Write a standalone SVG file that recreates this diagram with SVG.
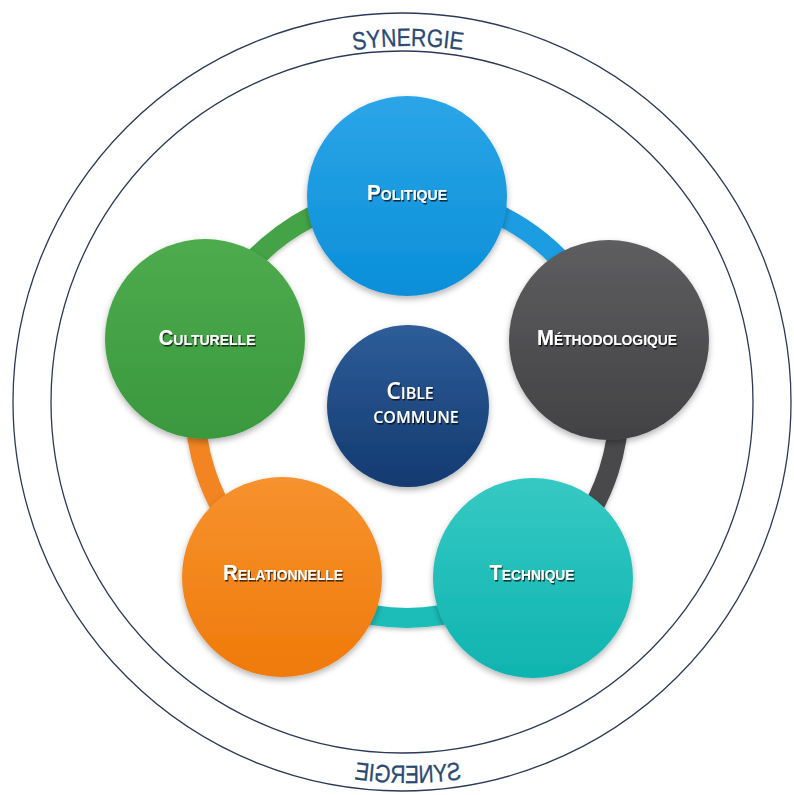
<svg xmlns="http://www.w3.org/2000/svg" width="794" height="795" viewBox="0 0 794 795">
  <defs>
    <style>
      .ring { fill: none; stroke: #2b3a58; stroke-width: 1.3; }
      .syn { font-family: "Liberation Sans", Arial, sans-serif; font-size: 25px; fill: #2a4a72; stroke: #2a4a72; stroke-width: 0.3; }
      .arc { fill: none; stroke-width: 20; stroke-linecap: butt; }
      .lbl { font-family: "Liberation Sans", Arial, sans-serif; font-weight: bold; font-size: 22px; font-variant: small-caps; fill: #ffffff; text-anchor: middle; }
      .ctr { font-family: "Open Sans", "Liberation Sans", sans-serif; font-weight: 600; font-size: 23px; font-variant: small-caps; fill: #ffffff; text-anchor: middle; }
    </style>
    <filter id="shadow" x="-20%" y="-20%" width="140%" height="140%">
      <feDropShadow dx="0" dy="3" stdDeviation="3" flood-color="#000" flood-opacity="0.3"/>
    </filter>
    <filter id="arcShadow" x="-20%" y="-20%" width="140%" height="140%">
      <feDropShadow dx="0" dy="2" stdDeviation="2" flood-color="#000" flood-opacity="0.25"/>
    </filter>
    <filter id="txtShadow" x="-10%" y="-30%" width="120%" height="160%">
      <feDropShadow dx="1" dy="1.5" stdDeviation="0.6" flood-color="#000" flood-opacity="0.75"/>
    </filter>
    <linearGradient id="gBlue" x1="0" y1="0" x2="0" y2="1">
      <stop offset="0" stop-color="#2ca5e8"/>
      <stop offset="1" stop-color="#0a8fd8"/>
    </linearGradient>
    <linearGradient id="gGray" x1="0" y1="0" x2="0" y2="1">
      <stop offset="0" stop-color="#5e5e60"/>
      <stop offset="1" stop-color="#424244"/>
    </linearGradient>
    <linearGradient id="gGreen" x1="0" y1="0" x2="0" y2="1">
      <stop offset="0" stop-color="#4eab4e"/>
      <stop offset="1" stop-color="#3a983e"/>
    </linearGradient>
    <linearGradient id="gOrange" x1="0" y1="0" x2="0" y2="1">
      <stop offset="0" stop-color="#f7922e"/>
      <stop offset="1" stop-color="#ef7a0a"/>
    </linearGradient>
    <linearGradient id="gTeal" x1="0" y1="0" x2="0" y2="1">
      <stop offset="0" stop-color="#36c9c3"/>
      <stop offset="1" stop-color="#0fb4b0"/>
    </linearGradient>
    <linearGradient id="gNavy" x1="0" y1="0" x2="0" y2="1">
      <stop offset="0" stop-color="#2e5d98"/>
      <stop offset="1" stop-color="#123a70"/>
    </linearGradient>
    <path id="topArc" d="M52,402 A356,356 0 0 1 764,402"/>
    <path id="botArc" d="M27,402 A381,381 0 0 0 789,402"/>
  </defs>

  <rect x="0" y="0" width="794" height="795" fill="#ffffff"/>

  <g id="synergie">
    <circle class="ring" cx="402" cy="402" r="389"/>
    <circle class="ring" cx="402" cy="402" r="351"/>
    <text class="syn"><textPath href="#topArc" startOffset="50%" text-anchor="middle" textLength="110" lengthAdjust="spacingAndGlyphs">SYNERGIE</textPath></text>
    <g transform="translate(816,0) scale(-1,1)">
      <text class="syn"><textPath href="#botArc" startOffset="50%" text-anchor="middle" textLength="108" lengthAdjust="spacingAndGlyphs">SYNERGIE</textPath></text>
    </g>
  </g>

  <g id="connectors" filter="url(#arcShadow)">
    <path class="arc" stroke="#1b9de2" d="M407,194 A212,212 0 0 1 608.6,340.5"/>
    <path class="arc" stroke="#4a4a4c" d="M608.6,340.5 A212,212 0 0 1 531.6,577.5"/>
    <path class="arc" stroke="#1fbdb8" d="M531.6,577.5 A212,212 0 0 1 282.4,577.5"/>
    <path class="arc" stroke="#f38420" d="M282.4,577.5 A212,212 0 0 1 205.4,340.5"/>
    <path class="arc" stroke="#45a346" d="M205.4,340.5 A212,212 0 0 1 407,194"/>
  </g>

  <g id="politique">
    <circle cx="407" cy="196" r="100" fill="url(#gBlue)" filter="url(#shadow)"/>
    <text class="lbl" x="407" y="200" textLength="80" lengthAdjust="spacingAndGlyphs" filter="url(#txtShadow)">Politique</text>
  </g>

  <g id="methodologique">
    <circle cx="609" cy="340" r="100" fill="url(#gGray)" filter="url(#shadow)"/>
    <text class="lbl" x="607" y="345" textLength="140" lengthAdjust="spacingAndGlyphs" filter="url(#txtShadow)">Méthodologique</text>
  </g>

  <g id="technique">
    <circle cx="533" cy="578" r="100" fill="url(#gTeal)" filter="url(#shadow)"/>
    <text class="lbl" x="532" y="580" textLength="85" lengthAdjust="spacingAndGlyphs" filter="url(#txtShadow)">Technique</text>
  </g>

  <g id="relationnelle">
    <circle cx="282" cy="577" r="100" fill="url(#gOrange)" filter="url(#shadow)"/>
    <text class="lbl" x="283" y="580" textLength="120" lengthAdjust="spacingAndGlyphs" filter="url(#txtShadow)">Relationnelle</text>
  </g>

  <g id="culturelle">
    <circle cx="205" cy="339" r="100" fill="url(#gGreen)" filter="url(#shadow)"/>
    <text class="lbl" x="207" y="345" textLength="97" lengthAdjust="spacingAndGlyphs" filter="url(#txtShadow)">Culturelle</text>
  </g>

  <g id="cible">
    <circle cx="408" cy="406" r="81" fill="url(#gNavy)" filter="url(#shadow)"/>
    <text class="ctr" filter="url(#txtShadow)"><tspan x="410" y="399">Cible</tspan><tspan x="416" y="423">commune</tspan></text>
  </g>
</svg>
